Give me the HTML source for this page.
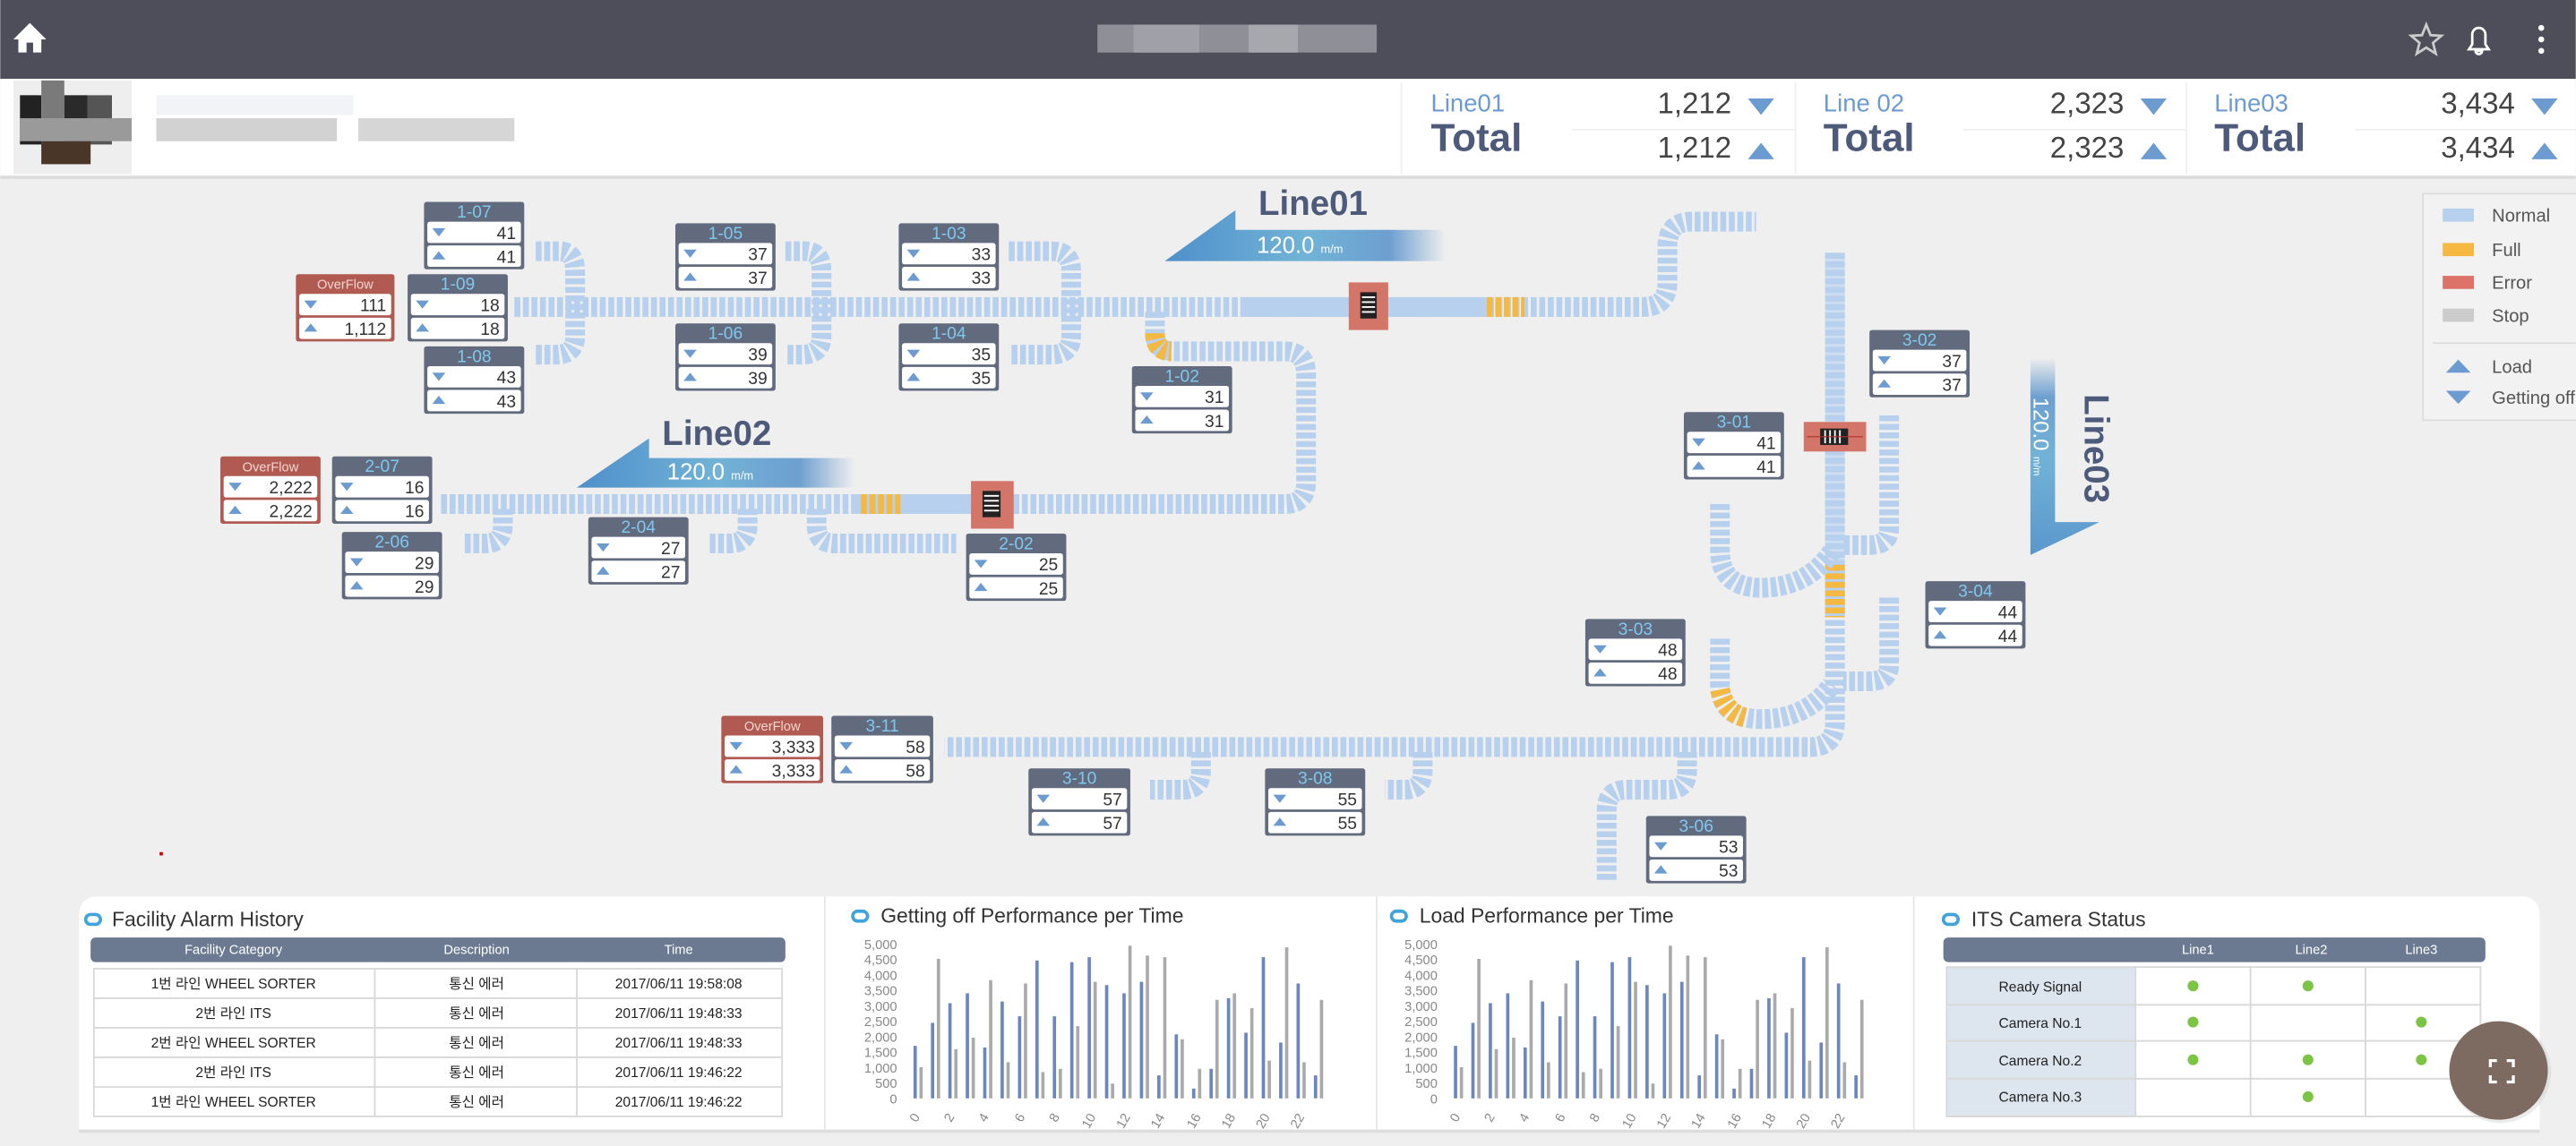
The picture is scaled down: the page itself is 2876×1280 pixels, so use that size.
<!DOCTYPE html>
<html><head><meta charset="utf-8"><style>
html,body{margin:0;padding:0;background:#efefef;}
svg{display:block}
text{font-family:"Liberation Sans","Noto Sans CJK KR",sans-serif;}
.cv{fill:none;stroke:#b7d0ee;stroke-width:12;stroke-dasharray:3.6 1.6;}
.tt{fill:#7fc8f0;font-size:10.5px;text-anchor:middle;}
.ot{fill:#f4d6d0;font-size:8px;text-anchor:middle;}
.num{fill:#333;font-size:10.5px;text-anchor:end;}
.ax{fill:#888;font-size:8px;text-anchor:end;}
.th{fill:#fff;font-size:8px;text-anchor:middle;}
.td{fill:#222;font-size:8.5px;text-anchor:middle;}
.pt{fill:#333;font-size:12.5px;}
</style></head><body>
<svg width="2876" height="1280" viewBox="0 0 1568 698" xmlns="http://www.w3.org/2000/svg">
<defs>
<linearGradient id="ga" x1="0" x2="1" y1="0" y2="0"><stop offset="0" stop-color="#4f8fcb"/><stop offset="0.5" stop-color="#71b3d6"/><stop offset="0.8" stop-color="#6d9fd0"/><stop offset="1" stop-color="#6d9fd0" stop-opacity="0"/></linearGradient>
<linearGradient id="gv" x1="0" x2="0" y1="1" y2="0"><stop offset="0" stop-color="#5a97cd"/><stop offset="0.5" stop-color="#71b3d6"/><stop offset="0.8" stop-color="#6d9fd0"/><stop offset="1" stop-color="#6d9fd0" stop-opacity="0"/></linearGradient>
<g id="dn"><path d="M0 0h8l-4 5z" fill="#6b9bd0"/></g>
<g id="up"><path d="M0 5h8l-4 -5z" fill="#6b9bd0"/></g>
</defs>
<rect width="1568" height="698" fill="#efefef"/>
<!-- header -->
<rect width="1568" height="48" fill="#4d4e59"/>
<path d="M8 24 L18 14 L28 24 H25 V32 H20 V26 H16 V32 H11 V24Z" fill="#fff"/>
<rect x="668" y="15" width="170" height="17" fill="#8e8f97"/>
<rect x="690" y="15" width="40" height="17" fill="#a0a1a8"/><rect x="760" y="15" width="30" height="17" fill="#a7a8ae"/>
<path d="M1477 15 l2.6 6.4 6.6 .4 -5.1 4.3 1.7 6.6 -5.8 -3.7 -5.8 3.7 1.7 -6.6 -5.1 -4.3 6.6 -.4z" fill="none" stroke="#ccc" stroke-width="1.5"/>
<path d="M1503 30 h12 l-2 -3 v-6 a4 4 0 0 0 -8 0 v6z M1507 31 h4 a2 2 0 0 1 -4 0z" fill="none" stroke="#fff" stroke-width="1.5"/>
<circle cx="1547" cy="17" r="1.8" fill="#fff"/><circle cx="1547" cy="24" r="1.8" fill="#fff"/><circle cx="1547" cy="31" r="1.8" fill="#fff"/>
<!-- white band -->
<rect y="48" width="1568" height="59" fill="#fff"/>
<rect y="107" width="1568" height="2" fill="#dcdcdc"/>
<rect x="8" y="49" width="72" height="57" fill="#eeeeee"/>
<rect x="12" y="58" width="13" height="30" fill="#222"/><rect x="25" y="49" width="14" height="40" fill="#7a7a7a"/><rect x="39" y="58" width="14" height="30" fill="#2a2a2a"/><rect x="53" y="58" width="15" height="30" fill="#555"/>
<rect x="25" y="86" width="30" height="14" fill="#4a3628"/><rect x="12" y="72" width="68" height="14" fill="#9a9a9a"/>
<rect x="95" y="72" width="110" height="14" fill="#d2d2d2"/><rect x="218" y="72" width="95" height="14" fill="#d6d6d6"/>
<rect x="95" y="58" width="120" height="12" fill="#f2f3f7"/>
<line x1="853" y1="50" x2="853" y2="106" stroke="#f0f0f0"/><line x1="1093" y1="50" x2="1093" y2="106" stroke="#f0f0f0"/><line x1="1331" y1="50" x2="1331" y2="106" stroke="#f0f0f0"/>
<g font-family="Liberation Sans, sans-serif">
<text x="871" y="68" fill="#6b9bd0" font-size="15">Line01</text><text x="871" y="92" fill="#4d5a7a" font-size="24" font-weight="bold">Total</text>
<text x="1054" y="69" fill="#444" font-size="18" text-anchor="end">1,212</text><text x="1054" y="96" fill="#444" font-size="18" text-anchor="end">1,212</text>
<text x="1110" y="68" fill="#6b9bd0" font-size="15">Line 02</text><text x="1110" y="92" fill="#4d5a7a" font-size="24" font-weight="bold">Total</text>
<text x="1293" y="69" fill="#444" font-size="18" text-anchor="end">2,323</text><text x="1293" y="96" fill="#444" font-size="18" text-anchor="end">2,323</text>
<text x="1348" y="68" fill="#6b9bd0" font-size="15">Line03</text><text x="1348" y="92" fill="#4d5a7a" font-size="24" font-weight="bold">Total</text>
<text x="1531" y="69" fill="#444" font-size="18" text-anchor="end">3,434</text><text x="1531" y="96" fill="#444" font-size="18" text-anchor="end">3,434</text>
</g>
<path d="M1064 60h16l-8 10z M1303 60h16l-8 10z M1541 60h16l-8 10z" fill="#6b9bd0"/>
<path d="M1064 97h16l-8 -10z M1303 97h16l-8 -10z M1541 97h16l-8 -10z" fill="#6b9bd0"/>
<line x1="957" y1="79" x2="1093" y2="79" stroke="#f0f0f0"/><line x1="1195" y1="79" x2="1331" y2="79" stroke="#f0f0f0"/><line x1="1434" y1="79" x2="1568" y2="79" stroke="#f0f0f0"/>

<!-- legend -->
<rect x="1475" y="118" width="100" height="138" fill="#f2f2f2" stroke="#ddd"/>
<rect x="1487" y="127" width="19" height="8" fill="#b7d0ee"/><text x="1517" y="135" font-size="11" fill="#555">Normal</text>
<rect x="1487" y="148" width="19" height="8" fill="#f5b942"/><text x="1517" y="156" font-size="11" fill="#555">Full</text>
<rect x="1487" y="168" width="19" height="8" fill="#dc7268"/><text x="1517" y="176" font-size="11" fill="#555">Error</text>
<rect x="1487" y="188" width="19" height="8" fill="#cccccc"/><text x="1517" y="196" font-size="11" fill="#555">Stop</text>
<line x1="1481" y1="209" x2="1568" y2="209" stroke="#ddd"/>
<path d="M1489 227h15l-7.5 -8z" fill="#6b9bd0"/><text x="1517" y="227" font-size="11" fill="#555">Load</text>
<path d="M1489 238h15l-7.5 8z" fill="#6b9bd0"/><text x="1517" y="246" font-size="11" fill="#555">Getting off</text>

<!-- conveyors line01 -->
<path class="cv" d="M313 187 H1000 Q1015 187 1015 172 V150 Q1015 135 1030 135 H1069"/>
<rect x="755" y="181" width="150" height="12" fill="#b7d0ee"/>
<path class="cv" style="stroke:#f5b942" d="M905 187 H928"/>
<path class="cv" d="M326 153 H340 Q350 153 350 165 V205 Q350 216 338 216 H326"/>
<path class="cv" d="M478 153 H490 Q500 153 500 165 V205 Q500 216 488 216 H478"/>
<path class="cv" d="M614 153 H640 Q652 153 652 165 V205 Q652 216 640 216 H614"/>
<path class="cv" d="M703 190 V203 Q703 214 715 214 H782 Q795 214 795 228 V294 Q795 307 782 307 H268"/>
<path class="cv" style="stroke:#f5b942" d="M703 203 Q703 214 713 214"/>
<rect x="520" y="301" width="95" height="12" fill="#b7d0ee"/>
<path class="cv" style="stroke:#f5b942" d="M524 307 H548"/>
<path class="cv" d="M306 310 V320 Q306 331 295 331 H282"/>
<path class="cv" d="M455 310 V320 Q455 331 444 331 H432"/>
<path class="cv" d="M497 310 V320 Q497 331 508 331 H582"/>
<!-- line03 -->
<path class="cv" d="M1117 154 V440 Q1117 455 1102 455 H575"/>
<rect x="1111" y="154" width="12" height="200" fill="#b7d0ee" opacity="0.6"/>
<path class="cv" style="stroke:#f5b942" d="M1117 344 V376"/>
<path class="cv" d="M1150 253 V322 Q1150 332 1138 332 H1122"/>
<path class="cv" d="M1150 364 V405 Q1150 415 1138 415 H1122"/>
<path class="cv" d="M1047 307 V335 Q1047 358 1072 358 Q1100 358 1115 336"/>
<path class="cv" d="M1047 389 V417 Q1047 438 1072 438 Q1100 438 1115 417"/>
<path class="cv" style="stroke:#f5b942" d="M1047 420 Q1050 434 1062 437"/>
<path class="cv" d="M731 458 V470 Q731 481 720 481 H700"/>
<path class="cv" d="M866 458 V470 Q866 481 855 481 H843"/>
<path class="cv" d="M1027 458 V470 Q1027 481 1015 481 H990 Q978 481 978 493 V537"/>
<!-- sorters -->
<rect x="821" y="172" width="24" height="29" fill="#d4756a"/><rect x="828" y="178" width="10" height="16" fill="#222"/><path d="M829 181h8M829 184h8M829 187h8M829 190h8" stroke="#fff" stroke-width="1"/>
<rect x="591" y="293" width="26" height="29" fill="#d4756a"/><rect x="598" y="299" width="11" height="16" fill="#222"/><path d="M599 302h9M599 305h9M599 308h9M599 311h9" stroke="#fff" stroke-width="1"/>
<rect x="1098" y="257" width="38" height="18" fill="#d4756a"/><rect x="1108" y="261" width="17" height="10" fill="#222"/><path d="M1111 262v8M1114 262v8M1117 262v8M1120 262v8" stroke="#fff"/><line x1="1100" y1="266" x2="1134" y2="266" stroke="#b03030" stroke-width="0.6"/>

<!-- arrows -->
<path d="M709 159 L752 128 V140 H880 V159Z" fill="url(#ga)"/>
<text x="766" y="131" font-size="21" font-weight="bold" fill="#4d5a7a">Line01</text>
<text x="765" y="154" font-size="14" fill="#fff">120.0 <tspan font-size="7">m/m</tspan></text>
<path d="M351 297 L395 267 V279 H520 V297Z" fill="url(#ga)"/>
<text x="403" y="271" font-size="21" font-weight="bold" fill="#4d5a7a">Line02</text>
<text x="406" y="292" font-size="14" fill="#fff">120.0 <tspan font-size="7">m/m</tspan></text>
<path d="M1236 338 V218 H1251 V318 H1278Z" fill="url(#gv)"/>
<text transform="translate(1238,242) rotate(90)" font-size="13" fill="#fff">120.0 <tspan font-size="6">m/m</tspan></text>
<text transform="translate(1269,240) rotate(90)" font-size="21" font-weight="bold" fill="#4d5a7a">Line03</text>

<!-- station boxes -->
<g id="boxes">
<g transform="translate(258,123)"><rect width="61" height="41" rx="1.5" fill="#626a7e"/><text x="30.5" y="9.5" class="tt">1-07</text><rect x="2" y="12" width="57" height="13" rx="1.5" fill="#fff"/><use href="#dn" x="5" y="16"/><text x="56" y="22.5" class="num">41</text><rect x="2" y="26.5" width="57" height="13" rx="1.5" fill="#fff"/><use href="#up" x="5" y="30"/><text x="56" y="37" class="num">41</text></g>
<g transform="translate(248,167)"><rect width="61" height="41" rx="1.5" fill="#626a7e"/><text x="30.5" y="9.5" class="tt">1-09</text><rect x="2" y="12" width="57" height="13" rx="1.5" fill="#fff"/><use href="#dn" x="5" y="16"/><text x="56" y="22.5" class="num">18</text><rect x="2" y="26.5" width="57" height="13" rx="1.5" fill="#fff"/><use href="#up" x="5" y="30"/><text x="56" y="37" class="num">18</text></g>
<g transform="translate(180,167)"><rect width="60" height="41" rx="1.5" fill="#b05a52"/><text x="30" y="9" class="ot">OverFlow</text><rect x="2" y="12" width="56" height="13" rx="1.5" fill="#fff"/><use href="#dn" x="5" y="16"/><text x="55" y="22.5" class="num">111</text><rect x="2" y="26.5" width="56" height="13" rx="1.5" fill="#fff"/><use href="#up" x="5" y="30"/><text x="55" y="37" class="num">1,112</text></g>
<g transform="translate(258,211)"><rect width="61" height="41" rx="1.5" fill="#626a7e"/><text x="30.5" y="9.5" class="tt">1-08</text><rect x="2" y="12" width="57" height="13" rx="1.5" fill="#fff"/><use href="#dn" x="5" y="16"/><text x="56" y="22.5" class="num">43</text><rect x="2" y="26.5" width="57" height="13" rx="1.5" fill="#fff"/><use href="#up" x="5" y="30"/><text x="56" y="37" class="num">43</text></g>
<g transform="translate(411,136)"><rect width="61" height="41" rx="1.5" fill="#626a7e"/><text x="30.5" y="9.5" class="tt">1-05</text><rect x="2" y="12" width="57" height="13" rx="1.5" fill="#fff"/><use href="#dn" x="5" y="16"/><text x="56" y="22.5" class="num">37</text><rect x="2" y="26.5" width="57" height="13" rx="1.5" fill="#fff"/><use href="#up" x="5" y="30"/><text x="56" y="37" class="num">37</text></g>
<g transform="translate(411,197)"><rect width="61" height="41" rx="1.5" fill="#626a7e"/><text x="30.5" y="9.5" class="tt">1-06</text><rect x="2" y="12" width="57" height="13" rx="1.5" fill="#fff"/><use href="#dn" x="5" y="16"/><text x="56" y="22.5" class="num">39</text><rect x="2" y="26.5" width="57" height="13" rx="1.5" fill="#fff"/><use href="#up" x="5" y="30"/><text x="56" y="37" class="num">39</text></g>
<g transform="translate(547,136)"><rect width="61" height="41" rx="1.5" fill="#626a7e"/><text x="30.5" y="9.5" class="tt">1-03</text><rect x="2" y="12" width="57" height="13" rx="1.5" fill="#fff"/><use href="#dn" x="5" y="16"/><text x="56" y="22.5" class="num">33</text><rect x="2" y="26.5" width="57" height="13" rx="1.5" fill="#fff"/><use href="#up" x="5" y="30"/><text x="56" y="37" class="num">33</text></g>
<g transform="translate(547,197)"><rect width="61" height="41" rx="1.5" fill="#626a7e"/><text x="30.5" y="9.5" class="tt">1-04</text><rect x="2" y="12" width="57" height="13" rx="1.5" fill="#fff"/><use href="#dn" x="5" y="16"/><text x="56" y="22.5" class="num">35</text><rect x="2" y="26.5" width="57" height="13" rx="1.5" fill="#fff"/><use href="#up" x="5" y="30"/><text x="56" y="37" class="num">35</text></g>
<g transform="translate(689,223)"><rect width="61" height="41" rx="1.5" fill="#626a7e"/><text x="30.5" y="9.5" class="tt">1-02</text><rect x="2" y="12" width="57" height="13" rx="1.5" fill="#fff"/><use href="#dn" x="5" y="16"/><text x="56" y="22.5" class="num">31</text><rect x="2" y="26.5" width="57" height="13" rx="1.5" fill="#fff"/><use href="#up" x="5" y="30"/><text x="56" y="37" class="num">31</text></g>
<g transform="translate(134,278)"><rect width="61" height="41" rx="1.5" fill="#b05a52"/><text x="30.5" y="9" class="ot">OverFlow</text><rect x="2" y="12" width="57" height="13" rx="1.5" fill="#fff"/><use href="#dn" x="5" y="16"/><text x="56" y="22.5" class="num">2,222</text><rect x="2" y="26.5" width="57" height="13" rx="1.5" fill="#fff"/><use href="#up" x="5" y="30"/><text x="56" y="37" class="num">2,222</text></g>
<g transform="translate(202,278)"><rect width="61" height="41" rx="1.5" fill="#626a7e"/><text x="30.5" y="9.5" class="tt">2-07</text><rect x="2" y="12" width="57" height="13" rx="1.5" fill="#fff"/><use href="#dn" x="5" y="16"/><text x="56" y="22.5" class="num">16</text><rect x="2" y="26.5" width="57" height="13" rx="1.5" fill="#fff"/><use href="#up" x="5" y="30"/><text x="56" y="37" class="num">16</text></g>
<g transform="translate(208,324)"><rect width="61" height="41" rx="1.5" fill="#626a7e"/><text x="30.5" y="9.5" class="tt">2-06</text><rect x="2" y="12" width="57" height="13" rx="1.5" fill="#fff"/><use href="#dn" x="5" y="16"/><text x="56" y="22.5" class="num">29</text><rect x="2" y="26.5" width="57" height="13" rx="1.5" fill="#fff"/><use href="#up" x="5" y="30"/><text x="56" y="37" class="num">29</text></g>
<g transform="translate(358,315)"><rect width="61" height="41" rx="1.5" fill="#626a7e"/><text x="30.5" y="9.5" class="tt">2-04</text><rect x="2" y="12" width="57" height="13" rx="1.5" fill="#fff"/><use href="#dn" x="5" y="16"/><text x="56" y="22.5" class="num">27</text><rect x="2" y="26.5" width="57" height="13" rx="1.5" fill="#fff"/><use href="#up" x="5" y="30"/><text x="56" y="37" class="num">27</text></g>
<g transform="translate(588,325)"><rect width="61" height="41" rx="1.5" fill="#626a7e"/><text x="30.5" y="9.5" class="tt">2-02</text><rect x="2" y="12" width="57" height="13" rx="1.5" fill="#fff"/><use href="#dn" x="5" y="16"/><text x="56" y="22.5" class="num">25</text><rect x="2" y="26.5" width="57" height="13" rx="1.5" fill="#fff"/><use href="#up" x="5" y="30"/><text x="56" y="37" class="num">25</text></g>
<g transform="translate(1025,251)"><rect width="61" height="41" rx="1.5" fill="#626a7e"/><text x="30.5" y="9.5" class="tt">3-01</text><rect x="2" y="12" width="57" height="13" rx="1.5" fill="#fff"/><use href="#dn" x="5" y="16"/><text x="56" y="22.5" class="num">41</text><rect x="2" y="26.5" width="57" height="13" rx="1.5" fill="#fff"/><use href="#up" x="5" y="30"/><text x="56" y="37" class="num">41</text></g>
<g transform="translate(1138,201)"><rect width="61" height="41" rx="1.5" fill="#626a7e"/><text x="30.5" y="9.5" class="tt">3-02</text><rect x="2" y="12" width="57" height="13" rx="1.5" fill="#fff"/><use href="#dn" x="5" y="16"/><text x="56" y="22.5" class="num">37</text><rect x="2" y="26.5" width="57" height="13" rx="1.5" fill="#fff"/><use href="#up" x="5" y="30"/><text x="56" y="37" class="num">37</text></g>
<g transform="translate(1172,354)"><rect width="61" height="41" rx="1.5" fill="#626a7e"/><text x="30.5" y="9.5" class="tt">3-04</text><rect x="2" y="12" width="57" height="13" rx="1.5" fill="#fff"/><use href="#dn" x="5" y="16"/><text x="56" y="22.5" class="num">44</text><rect x="2" y="26.5" width="57" height="13" rx="1.5" fill="#fff"/><use href="#up" x="5" y="30"/><text x="56" y="37" class="num">44</text></g>
<g transform="translate(965,377)"><rect width="61" height="41" rx="1.5" fill="#626a7e"/><text x="30.5" y="9.5" class="tt">3-03</text><rect x="2" y="12" width="57" height="13" rx="1.5" fill="#fff"/><use href="#dn" x="5" y="16"/><text x="56" y="22.5" class="num">48</text><rect x="2" y="26.5" width="57" height="13" rx="1.5" fill="#fff"/><use href="#up" x="5" y="30"/><text x="56" y="37" class="num">48</text></g>
<g transform="translate(439,436)"><rect width="62" height="41" rx="1.5" fill="#b05a52"/><text x="31" y="9" class="ot">OverFlow</text><rect x="2" y="12" width="58" height="13" rx="1.5" fill="#fff"/><use href="#dn" x="5" y="16"/><text x="57" y="22.5" class="num">3,333</text><rect x="2" y="26.5" width="58" height="13" rx="1.5" fill="#fff"/><use href="#up" x="5" y="30"/><text x="57" y="37" class="num">3,333</text></g>
<g transform="translate(506,436)"><rect width="62" height="41" rx="1.5" fill="#626a7e"/><text x="31" y="9.5" class="tt">3-11</text><rect x="2" y="12" width="58" height="13" rx="1.5" fill="#fff"/><use href="#dn" x="5" y="16"/><text x="57" y="22.5" class="num">58</text><rect x="2" y="26.5" width="58" height="13" rx="1.5" fill="#fff"/><use href="#up" x="5" y="30"/><text x="57" y="37" class="num">58</text></g>
<g transform="translate(626,468)"><rect width="62" height="41" rx="1.5" fill="#626a7e"/><text x="31" y="9.5" class="tt">3-10</text><rect x="2" y="12" width="58" height="13" rx="1.5" fill="#fff"/><use href="#dn" x="5" y="16"/><text x="57" y="22.5" class="num">57</text><rect x="2" y="26.5" width="58" height="13" rx="1.5" fill="#fff"/><use href="#up" x="5" y="30"/><text x="57" y="37" class="num">57</text></g>
<g transform="translate(770,468)"><rect width="61" height="41" rx="1.5" fill="#626a7e"/><text x="30.5" y="9.5" class="tt">3-08</text><rect x="2" y="12" width="57" height="13" rx="1.5" fill="#fff"/><use href="#dn" x="5" y="16"/><text x="56" y="22.5" class="num">55</text><rect x="2" y="26.5" width="57" height="13" rx="1.5" fill="#fff"/><use href="#up" x="5" y="30"/><text x="56" y="37" class="num">55</text></g>
<g transform="translate(1002,497)"><rect width="61" height="41" rx="1.5" fill="#626a7e"/><text x="30.5" y="9.5" class="tt">3-06</text><rect x="2" y="12" width="57" height="13" rx="1.5" fill="#fff"/><use href="#dn" x="5" y="16"/><text x="56" y="22.5" class="num">53</text><rect x="2" y="26.5" width="57" height="13" rx="1.5" fill="#fff"/><use href="#up" x="5" y="30"/><text x="56" y="37" class="num">53</text></g>
</g>
<rect x="97" y="519" width="2" height="2" fill="#c00"/>

<!-- bottom panel -->
<path d="M60 546 H1534 Q1546 546 1546 558 V688 H48 V558 Q48 546 60 546Z" fill="#fff"/>
<rect x="48" y="688" width="1498" height="2" fill="#ddd"/>
<line x1="502" y1="546" x2="502" y2="688" stroke="#e6e6e6"/><line x1="838" y1="546" x2="838" y2="688" stroke="#e6e6e6"/><line x1="1165" y1="546" x2="1165" y2="688" stroke="#e6e6e6"/>
<g fill="none" stroke="#3fa3dc" stroke-width="2"><rect x="52" y="557" width="9" height="6" rx="3"/><rect x="519" y="555" width="9" height="6" rx="3"/><rect x="847" y="555" width="9" height="6" rx="3"/><rect x="1183" y="557" width="9" height="6" rx="3"/></g>
<text x="68" y="564" class="pt">Facility Alarm History</text>
<text x="536" y="562" class="pt">Getting off Performance per Time</text>
<text x="864" y="562" class="pt">Load Performance per Time</text>
<text x="1200" y="564" class="pt">ITS Camera Status</text>
<!-- alarm table -->
<rect x="55" y="571" width="423" height="15" rx="3" fill="#6b7a91"/>
<text x="142" y="581" class="th">Facility Category</text><text x="290" y="581" class="th">Description</text><text x="413" y="581" class="th">Time</text>
<g stroke="#d8d8d8" fill="none"><rect x="57" y="590" width="419" height="90"/><line x1="228" y1="590" x2="228" y2="680"/><line x1="351" y1="590" x2="351" y2="680"/><line x1="57" y1="608" x2="476" y2="608"/><line x1="57" y1="626" x2="476" y2="626"/><line x1="57" y1="644" x2="476" y2="644"/><line x1="57" y1="662" x2="476" y2="662"/></g>
<g class="td">
<text x="142" y="602" class="td">1번 라인 WHEEL SORTER</text><text x="290" y="602" class="td">통신 에러</text><text x="413" y="602" class="td">2017/06/11 19:58:08</text>
<text x="142" y="620" class="td">2번 라인 ITS</text><text x="290" y="620" class="td">통신 에러</text><text x="413" y="620" class="td">2017/06/11 19:48:33</text>
<text x="142" y="638" class="td">2번 라인 WHEEL SORTER</text><text x="290" y="638" class="td">통신 에러</text><text x="413" y="638" class="td">2017/06/11 19:48:33</text>
<text x="142" y="656" class="td">2번 라인 ITS</text><text x="290" y="656" class="td">통신 에러</text><text x="413" y="656" class="td">2017/06/11 19:46:22</text>
<text x="142" y="674" class="td">1번 라인 WHEEL SORTER</text><text x="290" y="674" class="td">통신 에러</text><text x="413" y="674" class="td">2017/06/11 19:46:22</text>
</g>
<!-- charts -->
<g id="chart1">
<text x="546" y="578" class="ax">5,000</text><text x="546" y="587.4" class="ax">4,500</text><text x="546" y="596.8" class="ax">4,000</text><text x="546" y="606.2" class="ax">3,500</text><text x="546" y="615.6" class="ax">3,000</text><text x="546" y="625" class="ax">2,500</text><text x="546" y="634.4" class="ax">2,000</text><text x="546" y="643.8" class="ax">1,500</text><text x="546" y="653.2" class="ax">1,000</text><text x="546" y="662.6" class="ax">500</text><text x="546" y="672" class="ax">0</text>
<g fill="#6b86c0">
<rect x="556" y="637" width="2" height="32"/><rect x="566.6" y="623" width="2" height="46"/><rect x="577.2" y="611" width="2" height="58"/><rect x="587.8" y="605" width="2" height="64"/><rect x="598.4" y="638" width="2" height="31"/><rect x="609" y="610" width="2" height="59"/><rect x="619.6" y="619" width="2" height="50"/><rect x="630.2" y="585" width="2" height="84"/><rect x="640.8" y="619" width="2" height="50"/><rect x="651.4" y="586" width="2" height="83"/><rect x="662" y="583" width="2" height="86"/><rect x="672.6" y="600" width="2" height="69"/><rect x="683.2" y="605" width="2" height="64"/><rect x="693.8" y="598" width="2" height="71"/><rect x="704.4" y="655" width="2" height="14"/><rect x="715" y="630" width="2" height="39"/><rect x="725.6" y="663" width="2" height="6"/><rect x="736.2" y="651" width="2" height="18"/><rect x="746.8" y="608" width="2" height="61"/><rect x="757.4" y="629" width="2" height="40"/><rect x="768" y="583" width="2" height="86"/><rect x="778.6" y="635" width="2" height="34"/><rect x="789.2" y="599" width="2" height="70"/><rect x="799.8" y="655" width="2" height="14"/>
</g>
<g fill="#aaaaaa">
<rect x="559.6" y="650" width="2" height="19"/><rect x="570.2" y="584" width="2" height="85"/><rect x="580.8" y="639" width="2" height="30"/><rect x="591.4" y="632" width="2" height="37"/><rect x="602" y="597" width="2" height="72"/><rect x="612.6" y="647" width="2" height="22"/><rect x="623.2" y="599" width="2" height="70"/><rect x="633.8" y="653" width="2" height="16"/><rect x="644.4" y="651" width="2" height="18"/><rect x="655" y="625" width="2" height="44"/><rect x="665.6" y="598" width="2" height="71"/><rect x="676.2" y="660" width="2" height="9"/><rect x="686.8" y="576" width="2" height="93"/><rect x="697.4" y="582" width="2" height="87"/><rect x="708" y="583" width="2" height="86"/><rect x="718.6" y="633" width="2" height="36"/><rect x="729.2" y="651" width="2" height="18"/><rect x="739.8" y="609" width="2" height="60"/><rect x="750.4" y="605" width="2" height="64"/><rect x="761" y="614" width="2" height="55"/><rect x="771.6" y="646" width="2" height="23"/><rect x="782.2" y="577" width="2" height="92"/><rect x="792.8" y="647" width="2" height="22"/><rect x="803.4" y="609" width="2" height="60"/>
</g>
<g class="ax" style="text-anchor:middle">
<text transform="translate(559,682) rotate(-60)">0</text><text transform="translate(580,682) rotate(-60)">2</text><text transform="translate(601,682) rotate(-60)">4</text><text transform="translate(623,682) rotate(-60)">6</text><text transform="translate(644,682) rotate(-60)">8</text><text transform="translate(665,684) rotate(-60)">10</text><text transform="translate(686,684) rotate(-60)">12</text><text transform="translate(707,684) rotate(-60)">14</text><text transform="translate(729,684) rotate(-60)">16</text><text transform="translate(750,684) rotate(-60)">18</text><text transform="translate(771,684) rotate(-60)">20</text><text transform="translate(792,684) rotate(-60)">22</text>
</g>
</g>
<use href="#chart1" x="329"/>
<!-- ITS table -->
<rect x="1183" y="571" width="330" height="15" rx="3" fill="#6b7a91"/>
<text x="1338" y="581" class="th">Line1</text><text x="1407" y="581" class="th">Line2</text><text x="1474" y="581" class="th">Line3</text>
<rect x="1185" y="589" width="115" height="91" fill="#dde5ee"/>
<g stroke="#d8d8d8" fill="none"><rect x="1185" y="589" width="325" height="91"/><line x1="1300" y1="589" x2="1300" y2="680"/><line x1="1370" y1="589" x2="1370" y2="680"/><line x1="1440" y1="589" x2="1440" y2="680"/><line x1="1185" y1="612" x2="1510" y2="612"/><line x1="1185" y1="634" x2="1510" y2="634"/><line x1="1185" y1="657" x2="1510" y2="657"/></g>
<text x="1242" y="604" class="td" font-size="10">Ready Signal</text><text x="1242" y="626" class="td" font-size="10">Camera No.1</text><text x="1242" y="649" class="td" font-size="10">Camera No.2</text><text x="1242" y="671" class="td" font-size="10">Camera No.3</text>
<g fill="#7cc444"><circle cx="1335" cy="600.5" r="3.3"/><circle cx="1405" cy="600.5" r="3.3"/><circle cx="1335" cy="622.5" r="3.3"/><circle cx="1474" cy="622.5" r="3.3"/><circle cx="1335" cy="645.5" r="3.3"/><circle cx="1405" cy="645.5" r="3.3"/><circle cx="1474" cy="645.5" r="3.3"/><circle cx="1405" cy="668" r="3.3"/></g>
<circle cx="1522" cy="653" r="31" fill="#ccc" opacity="0.4"/>
<circle cx="1521" cy="652" r="30" fill="#7d6a60"/>
<path d="M1516 650v-4h4 M1526 646h4v4 M1530 655v4h-4 M1520 659h-4v-4" stroke="#fff" stroke-width="1.8" fill="none"/>
</svg>
</body></html>
